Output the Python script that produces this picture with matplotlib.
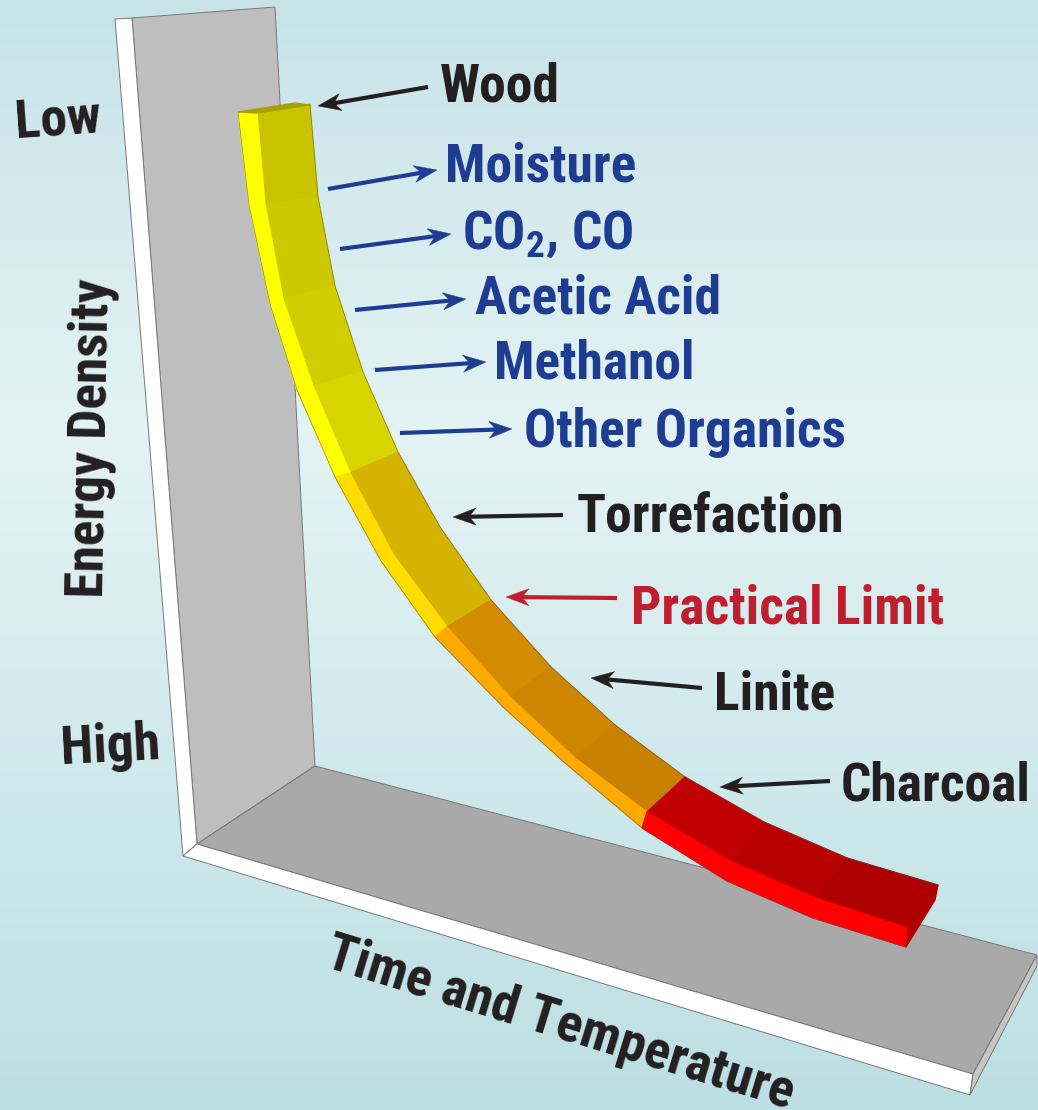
import matplotlib
matplotlib.use('Agg')
import matplotlib.pyplot as plt
from matplotlib.patches import Polygon
from matplotlib import font_manager as fm
import numpy as np

# narrow bold face if the machine has it, otherwise plain Liberation Sans at a smaller size
try:
    fm.findfont('Roboto Condensed', fallback_to_default=False)
    label_font = 'Roboto Condensed'
    label_size = 38.5
except ValueError:
    label_font = 'Liberation Sans'
    label_size = 31
plt.rcParams['font.family'] = [label_font, 'Liberation Sans', 'DejaVu Sans']
plt.rcParams['mathtext.fontset'] = 'custom'
plt.rcParams['mathtext.rm'] = label_font + ':bold'

# --- PICTURE DATA (image pixels, y downwards) ---
wall_strip = [(115, 19), (132, 18), (197, 844), (183, 856)]
wall_face = [(132, 18), (275, 7), (315, 766), (197, 844)]
floor_face = [(197, 844), (315, 766), (1037, 955), (973, 1074)]
floor_strip = [(183, 856), (197, 844), (973, 1074), (970, 1095)]
floor_side = [(1037, 955), (1037, 966), (970, 1095), (973, 1074)]

# ribbon edges, same index = same cross section
right_edge = [(310, 104), (318, 197), (335, 286), (363, 372), (398, 452), (440, 527), (491, 600),
              (551, 667), (615, 725), (685, 777), (764, 822), (847, 858), (938, 885)]
inner_edge = [(257, 113), (265, 204), (283, 299), (313, 386), (350, 473), (393, 554), (447, 627),
              (510, 697), (575, 758), (647, 812), (732, 862), (816, 898), (908, 928)]
outer_edge = [(238, 112), (249, 205), (270, 304), (297, 390), (335, 477), (381, 561), (435, 637),
              (503, 707), (565, 763), (642, 828), (727, 881), (813, 918), (906, 947)]
top_colors = ['#C8C400', '#CDC900', '#D1CE00', '#D6D500', '#D4B400', '#D4B400', '#D38B00',
              '#CE8600', '#C88100', '#C30000', '#B90000', '#AE0000']
side_colors = ['#FFFF00', '#FFFF00', '#FFFF00', '#FFFF00', '#FFDD00', '#FFDD00', '#FFAA00',
               '#FFAA00', '#FFAA00', '#FF0000', '#FF0000', '#FF0000']
ribbon_cap = [(238, 112), (257, 113), (310, 105), (295, 103)]
ribbon_end = [(938, 885), (935, 900), (906, 947), (908, 928)]

black = '#231F20'
blue = '#1F3C93'
red = '#BE1E2D'
labels = ['Wood', 'Moisture', r'CO$_{\mathrm{2}}$, CO', 'Acetic Acid', 'Methanol', 'Other Organics',
          'Torrefaction', 'Practical Limit', 'Linite', 'Charcoal']
label_x = [500, 541, 548, 598, 594, 685, 710, 788, 775, 936]
label_y = [87, 167, 234, 299, 364, 432, 517, 609, 695, 786]
label_colors = [black, blue, blue, blue, blue, blue, black, red, black, black]
arrow_tails = [(428, 87), (328, 189), (340, 249), (355, 310), (375, 370), (400, 433),
               (563, 515), (617, 598), (702, 688), (830, 781)]
arrow_tips = [(318, 106), (437, 170), (451, 234), (466, 299), (486, 362), (512, 429),
              (453, 517), (506, 597), (591, 678), (720, 787)]

axis_labels = ['Low', 'High', 'Energy Density', 'Time and Temperature']
axis_x = [58, 110, 91, 560]
axis_y = [120, 747, 438, 1024]
axis_rot = [4, 3, 89, -17]

bg_stops = [0, 430, 1110]
bg_r = [199, 228, 188]
bg_g = [227, 243, 223]
bg_b = [231, 244, 227]

# --- PLOTTING ---
fig = plt.figure(figsize=(10.38, 11.10), dpi=100)
ax = fig.add_axes([0, 0, 1, 1])
ax.set_xlim(0, 1038)
ax.set_ylim(1110, 0)
ax.axis('off')

# Background gradient
rows = np.arange(1110)
grad = np.stack([np.interp(rows, bg_stops, c) for c in (bg_r, bg_g, bg_b)], axis=1) / 255
ax.imshow(grad[:, None, :], extent=(0, 1038, 1110, 0), aspect='auto', zorder=0)


def face(pts, color, z=1, edge=None):
    ax.add_patch(Polygon(pts, closed=True, facecolor=color, edgecolor=edge or color,
                         linewidth=0.7 if edge else 0.9, zorder=z))


# Panel
face(wall_face, '#BEBEBE', 1, '#777777')
face(floor_face, '#A9A9A9', 2, '#777777')
face(wall_strip, '#FFFFFF', 2, '#777777')
face(floor_strip, '#FFFFFF', 3, '#777777')
face(floor_side, '#C6C6C6', 3, '#777777')

# Ribbon
for i in range(len(top_colors)):
    face([inner_edge[i], right_edge[i], right_edge[i + 1], inner_edge[i + 1]], top_colors[i], 5)
    face([outer_edge[i], inner_edge[i], inner_edge[i + 1], outer_edge[i + 1]], side_colors[i], 5)
face(ribbon_cap, '#A5A100', 6)
face(ribbon_end, '#B00000', 6)
for edge in (right_edge, outer_edge):
    xs, ys = zip(*edge)
    ax.plot(xs, ys, color='#555555', lw=0.5, alpha=0.7, zorder=6)


def arrow(tail, tip, color):
    tail, tip = np.array(tail, float), np.array(tip, float)
    d = (tip - tail) / np.linalg.norm(tip - tail)
    n = np.array([-d[1], d[0]])
    neck = tip - d * 16
    ax.plot([tail[0], neck[0]], [tail[1], neck[1]], color=color, lw=3, solid_capstyle='butt', zorder=7)
    head = [tip, tip - d * 23 + n * 8.5, neck, tip - d * 23 - n * 8.5]
    ax.add_patch(Polygon(head, closed=True, facecolor=color, edgecolor=color, linewidth=0.3, zorder=7))


for tail, tip, c in zip(arrow_tails, arrow_tips, label_colors):
    arrow(tail, tip, c)

for s, x, y, c in zip(labels, label_x, label_y, label_colors):
    ax.text(x, y, s, color=c, fontsize=label_size, fontweight='bold', ha='center', va='center', zorder=8)

for s, x, y, r in zip(axis_labels, axis_x, axis_y, axis_rot):
    ax.text(x, y, s, color=black, fontsize=label_size, fontweight='bold', ha='center', va='center',
            rotation=r, rotation_mode='anchor', zorder=8)

fig.savefig('out.png', dpi=100)
